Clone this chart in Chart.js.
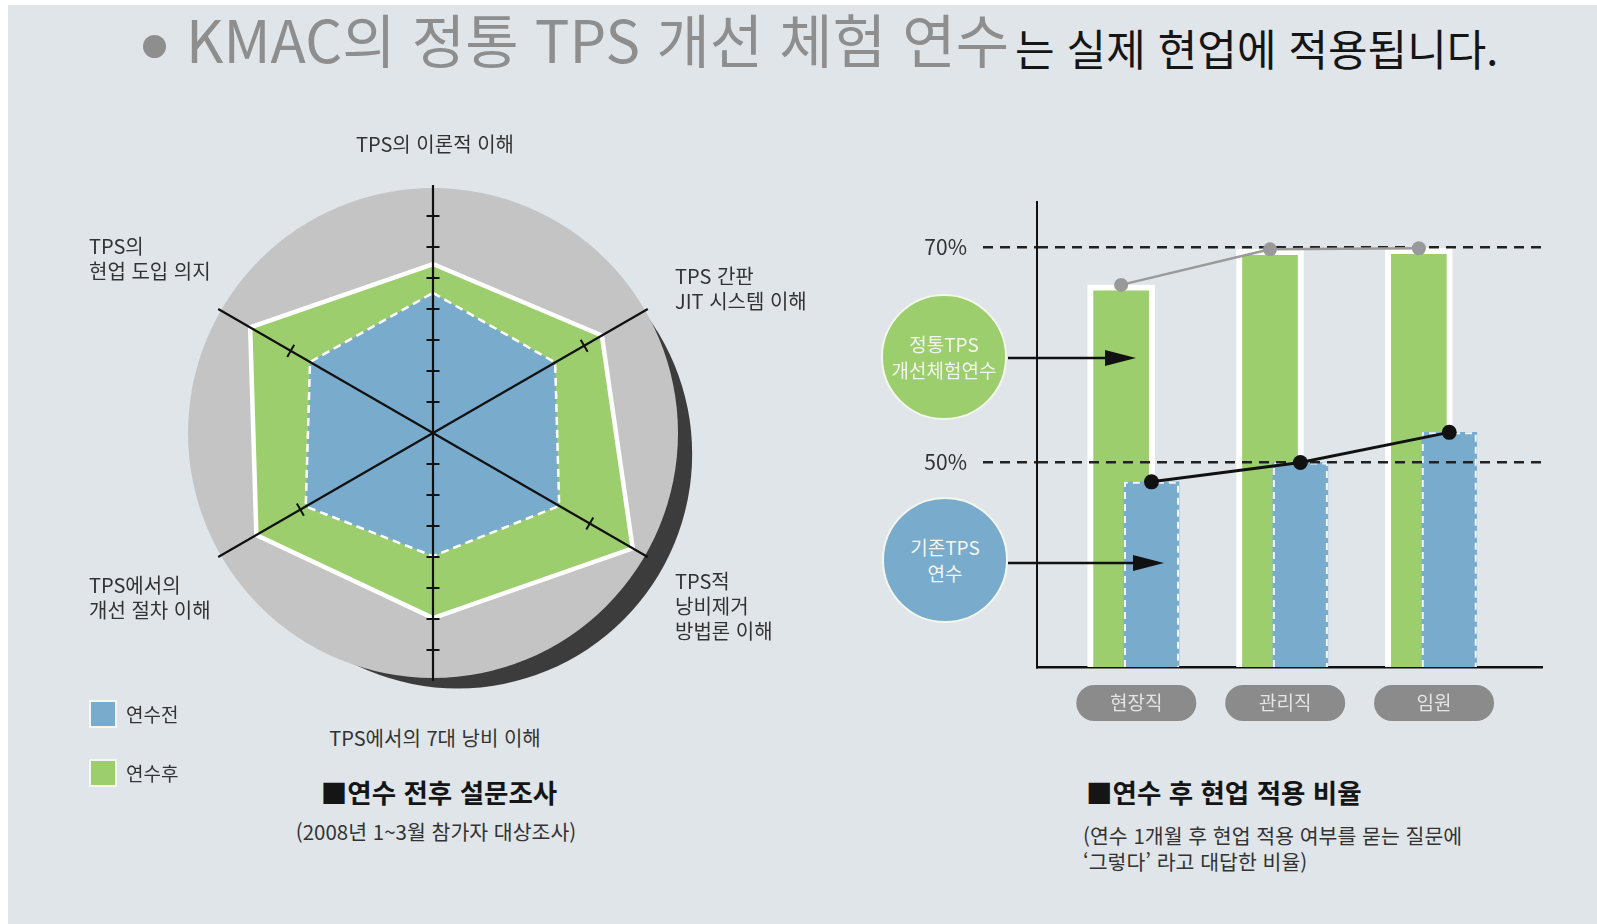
<!DOCTYPE html>
<html lang="ko">
<head>
<meta charset="utf-8">
<script src="https://cdn.jsdelivr.net/npm/chart.js@4.4.1/dist/chart.umd.min.js"></script>
<style>
html,body{margin:0;padding:0;background:#ffffff;}
body{width:1597px;height:924px;position:relative;overflow:hidden;font-family:"Noto Sans CJK KR","Noto Sans",sans-serif;color:#2a2a2a;}
#bg{position:absolute;left:8px;top:5px;right:0;bottom:0;background:#e0e5e9;}
.abs{position:absolute;white-space:pre;}
.rl{position:absolute;white-space:pre;font-size:20px;line-height:25px;color:#333;}
#t1{left:186px;top:9px;font-size:58px;line-height:1;color:#8e8e8e;}
#dot{left:143px;top:35px;width:23px;height:23px;border-radius:50%;background:#8e8e8e;}
#t2{left:1015px;top:26px;font-size:43px;line-height:1;color:#151515;}
.cap{font-size:26.5px;font-weight:700;line-height:30px;color:#151515;}
.sub{font-size:20.5px;line-height:26px;color:#333;}
.sq{position:absolute;width:24px;height:24px;border:2px solid #f4f7f2;}
.lg{font-size:19px;line-height:24px;color:#333;}
.bub{position:absolute;width:122px;height:122px;border-radius:50%;border:2px solid #f3f7ec;display:flex;align-items:center;justify-content:center;text-align:center;font-size:19px;line-height:26px;color:#f2f6ee;white-space:pre;}
</style>
</head>
<body>
<div id="bg"></div>

<div id="dot" class="abs"></div>
<div id="t1" class="abs">KMAC의 정통 TPS 개선 체험 연수</div>
<div id="t2" class="abs">는 실제 현업에 적용됩니다.</div>

<div class="abs" style="left:153px;top:153px;width:560px;height:560px"><canvas id="radar"></canvas></div>
<div class="abs" style="left:900px;top:180px;width:660px;height:580px"><canvas id="bars"></canvas></div>

<div id="radarLabelHost"></div>

<div class="sq" style="left:89px;top:700px;background:#79abcd"></div>
<div class="abs lg" style="left:126px;top:702px">연수전</div>
<div class="sq" style="left:89px;top:759px;background:#9dce6d"></div>
<div class="abs lg" style="left:126px;top:761px">연수후</div>

<div class="abs cap" style="left:439px;top:777px;transform:translateX(-50%)">■연수 전후 설문조사</div>
<div class="abs sub" style="left:436px;top:818px;transform:translateX(-50%)">(2008년 1~3월 참가자 대상조사)</div>

<div class="abs cap" style="left:1086px;top:777px">■연수 후 현업 적용 비율</div>
<div class="abs sub" style="left:1083px;top:822px">(연수 1개월 후 현업 적용 여부를 묻는 질문에
‘그렇다’ 라고 대답한 비율)</div>

<div class="bub" style="left:881px;top:294px;background:#9dce6d">정통TPS
개선체험연수</div>
<div class="bub" style="left:882px;top:497px;background:#79abcd">기존TPS
연수</div>

<svg class="abs" style="left:0;top:0" width="1597" height="924">
  <line x1="1008" y1="358" x2="1110" y2="358" stroke="#111" stroke-width="2.5"/>
  <polygon points="1105,350 1136,358 1105,366" fill="#111"/>
  <line x1="1008" y1="563" x2="1138" y2="563" stroke="#111" stroke-width="2.5"/>
  <polygon points="1133,555 1164,563 1133,571" fill="#111"/>
</svg>

<script>
// ---------- data ----------
const radarLabels = [
  ["TPS의 이론적 이해"],
  ["TPS 간판", "JIT 시스템 이해"],
  ["TPS적", "낭비제거", "방법론 이해"],
  ["TPS에서의 7대 낭비 이해"],
  ["TPS에서의", "개선 절차 이해"],
  ["TPS의", "현업 도입 의지"]
];
const beforeScores = [4.52, 4.55, 4.70, 3.97, 4.74, 4.58];   // 연수전
const afterScores  = [5.45, 6.29, 7.44, 5.97, 6.58, 6.81];   // 연수후
const radarTickValues = [1, 2, 3, 4, 5, 6, 7];
const radarAxisMarks  = [null, 5.63, 5.84, null, 4.94, 5.30];

const jobCategories  = ["현장직", "관리직", "임원"];
const authenticRates = [66.5, 69.8, 69.9];   // 정통TPS 개선체험연수 (%)
const existingRates  = [48.2, 50.0, 52.8];   // 기존TPS 연수 (%)
const rateTicks      = [50, 70];

// ---------- colours / layout ----------
const GREEN = '#9dce6d', BLUE = '#79abcd';
const Y_MIN = 31, Y_MAX = 74.2;

// radar point labels as real text
const radarLabelLayout = [
  {x: 435, y: 143, align: 'center'},
  {x: 675, y: 275, align: 'left'},
  {x: 675, y: 580, align: 'left'},
  {x: 435, y: 737, align: 'center'},
  {x: 89,  y: 584, align: 'left'},
  {x: 89,  y: 245, align: 'left'}
];
const host = document.getElementById('radarLabelHost');
radarLabels.forEach((lines, i) => {
  const p = radarLabelLayout[i];
  const d = document.createElement('div');
  d.className = 'rl';
  d.textContent = lines.join('\n');
  d.style.left = p.x + 'px';
  d.style.top = (p.y - 12.5) + 'px';
  d.style.textAlign = p.align;
  if (p.align === 'center') d.style.transform = 'translateX(-50%)';
  host.appendChild(d);
});

// ---------- radar ----------
const radarDecor = {
  id: 'radarDecor',
  beforeDraw(chart) {
    const r = chart.scales.r, ctx = chart.ctx, R = r.drawingArea;
    ctx.save();
    ctx.fillStyle = '#3c3c3c';
    ctx.beginPath();
    ctx.arc(r.xCenter + R * 0.1, r.yCenter + R * 0.085, R * 0.945, 0, Math.PI * 2);
    ctx.fill();
    ctx.fillStyle = '#c4c4c4';
    ctx.beginPath();
    ctx.arc(r.xCenter, r.yCenter, R - 3, 0, Math.PI * 2);
    ctx.fill();
    ctx.restore();
  },
  afterDraw(chart) {
    const r = chart.scales.r, ctx = chart.ctx;
    ctx.save();
    ctx.strokeStyle = '#111';
    ctx.lineWidth = 2;
    const mark = (i, v, half) => {
      const p = r.getPointPosition(i, r.getDistanceFromCenterForValue(v));
      const nx = -Math.sin(p.angle), ny = Math.cos(p.angle);
      ctx.beginPath();
      ctx.moveTo(p.x - nx * half, p.y - ny * half);
      ctx.lineTo(p.x + nx * half, p.y + ny * half);
      ctx.stroke();
    };
    [0, 3].forEach(i => radarTickValues.forEach(v => mark(i, v, 6.5)));
    radarAxisMarks.forEach((v, i) => { if (v !== null) mark(i, v, 7); });
    ctx.restore();
  }
};

new Chart(document.getElementById('radar'), {
  type: 'radar',
  data: {
    labels: radarLabels,
    datasets: [
      { label: '연수전', data: beforeScores, backgroundColor: BLUE, borderColor: '#ffffff',
        borderWidth: 2.5, borderDash: [8, 5], fill: true, pointRadius: 0, borderJoinStyle: 'miter' },
      { label: '연수후', data: afterScores, backgroundColor: GREEN, borderColor: '#ffffff',
        borderWidth: 4.5, fill: true, pointRadius: 0, borderJoinStyle: 'miter' }
    ]
  },
  options: {
    responsive: true, maintainAspectRatio: false, animation: false,
    layout: { padding: 32 },
    plugins: { legend: { display: false }, tooltip: { enabled: false } },
    scales: {
      r: {
        min: 0, max: 8,
        ticks: { display: false },
        grid: { display: false, z: 1 },
        angleLines: { display: true, color: '#111111', lineWidth: 2.2 },
        pointLabels: { display: false }
      }
    }
  },
  plugins: [radarDecor]
});

// ---------- bars + lines ----------
const SHIFT = 0.102;
const greenPts = jobCategories.map((c, i) => ({ x: i - SHIFT, y: authenticRates[i] }));
const bluePts  = jobCategories.map((c, i) => ({ x: i + SHIFT, y: existingRates[i] }));

const barDecor = {
  id: 'barDecor',
  beforeDraw(chart) {
    const xs = chart.scales.x, ctx = chart.ctx, top = chart.chartArea.bottom + 18;
    const w = 120, h = 36, rad = 18;
    ctx.save();
    ctx.fillStyle = '#8b8b8b';
    xs.ticks.forEach(t => {
      const cx = xs.getPixelForValue(t.value), l = cx - w / 2;
      ctx.beginPath();
      ctx.moveTo(l + rad, top);
      ctx.lineTo(l + w - rad, top);
      ctx.arc(l + w - rad, top + rad, rad, -Math.PI / 2, Math.PI / 2);
      ctx.lineTo(l + rad, top + h);
      ctx.arc(l + rad, top + rad, rad, Math.PI / 2, Math.PI * 1.5);
      ctx.closePath();
      ctx.fill();
    });
    ctx.restore();
  },
  beforeDatasetDraw(chart, args) {
    if (args.meta.type === 'line') return false;
  },
  afterDatasetsDraw(chart) {
    const ctx = chart.ctx, area = chart.chartArea;
    const meta = chart.data.datasets.map((d, i) => chart.getDatasetMeta(i)).find(m => m.label === '기존TPS 연수');
    ctx.save();
    ctx.beginPath();
    ctx.rect(area.left, area.top, area.right - area.left, area.bottom - area.top);
    ctx.clip();
    ctx.strokeStyle = '#f2f7fb';
    ctx.lineWidth = 2;
    ctx.setLineDash([7, 5]);
    meta.data.forEach(bar => {
      const { x, y, base, width } = bar.getProps(['x', 'y', 'base', 'width'], true);
      const l = x - width / 2 + 1, r = x + width / 2 - 1;
      ctx.beginPath();
      ctx.moveTo(l, base); ctx.lineTo(l, y + 1); ctx.lineTo(r, y + 1); ctx.lineTo(r, base);
      ctx.stroke();
    });
    ctx.restore();
  },
  afterDraw(chart) {
    chart.getSortedVisibleDatasetMetas().filter(m => m.type === 'line').forEach(m => m.controller.draw());
  }
};

new Chart(document.getElementById('bars'), {
  type: 'bar',
  data: {
    datasets: [
      { type: 'line', label: '정통TPS 개선체험연수 추이', data: greenPts, borderColor: '#9a9a9a', borderWidth: 2.5,
        pointRadius: 7, pointBackgroundColor: '#999999', pointBorderWidth: 0, order: 0 },
      { type: 'line', label: '기존TPS 연수 추이', data: bluePts, borderColor: '#111111', borderWidth: 3,
        pointRadius: 7.5, pointBackgroundColor: '#111111', pointBorderWidth: 0, order: 0 },
      { type: 'bar', label: '기존TPS 연수', data: bluePts, backgroundColor: BLUE, borderWidth: 0,
        barThickness: 55, grouped: false, base: Y_MIN, order: 1 },
      { type: 'bar', label: '정통TPS 개선체험연수', data: greenPts, backgroundColor: GREEN, borderColor: '#ffffff',
        borderWidth: 6, borderSkipped: 'start', barThickness: 67, grouped: false, base: Y_MIN, order: 2 }
    ]
  },
  options: {
    responsive: true, maintainAspectRatio: false, animation: false,
    layout: { padding: { top: 22, right: 18, left: 0, bottom: 0 } },
    plugins: { legend: { display: false }, tooltip: { enabled: false } },
    scales: {
      x: {
        type: 'linear', min: -0.667, max: 2.725, offset: false,
        grid: { display: false, drawTicks: false },
        border: { display: true, color: '#111111', width: 2.5 },
        afterBuildTicks: s => { s.ticks = jobCategories.map((c, i) => ({ value: i })); },
        afterFit: s => { s.height = 93; s.paddingLeft = 0; s.paddingRight = 0; },
        ticks: {
          callback: v => jobCategories[v],
          color: '#e4e4e4', padding: 24, maxRotation: 0, autoSkip: false,
          font: { family: '"Noto Sans CJK KR"', size: 19 }
        }
      },
      y: {
        type: 'linear', min: Y_MIN, max: Y_MAX, beginAtZero: false,
        grid: { display: true, z: 1, color: '#222222', lineWidth: 2.5, drawTicks: true, tickLength: 54,
                tickColor: '#222222', tickWidth: 2.5, tickBorderDash: [10, 7] },
        border: { display: true, z: 1, color: '#111111', width: 2, dash: [10, 7] },
        afterBuildTicks: s => { s.ticks = rateTicks.map(v => ({ value: v })); },
        afterFit: s => { s.width = 137; s.paddingTop = 0; s.paddingBottom = 0; },
        ticks: {
          callback: v => v + '%',
          color: '#333333', padding: 16,
          font: { family: '"Noto Sans CJK KR"', size: 21 }
        }
      }
    }
  },
  plugins: [barDecor]
});
</script>
</body>
</html>
